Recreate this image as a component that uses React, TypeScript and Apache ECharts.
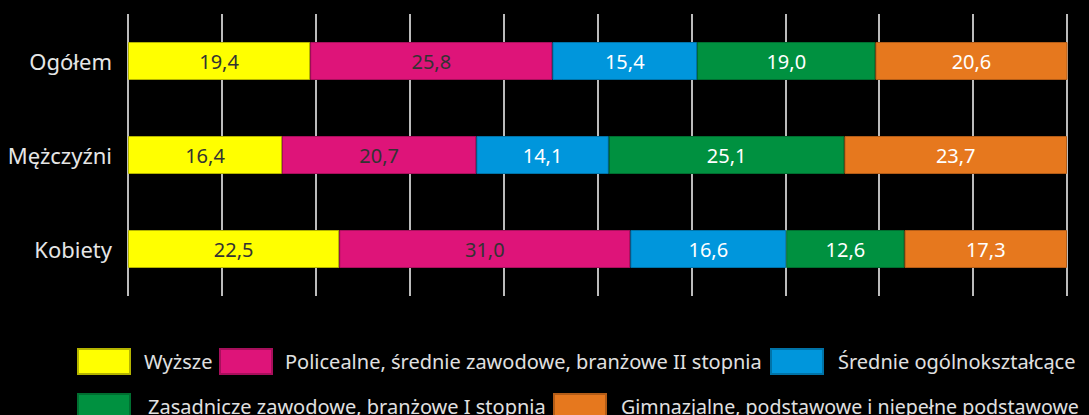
import React, { useEffect, useRef } from "react";
import * as echarts from "echarts";

const categories = ["Ogółem", "Mężczyźni", "Kobiety"];
const seriesNames = [
  "Wyższe",
  "Policealne, średnie zawodowe, branżowe II stopnia",
  "Średnie ogólnokształcące",
  "Zasadnicze zawodowe, branżowe I stopnia",
  "Gimnazjalne, podstawowe i niepełne podstawowe",
];
const wyzsze = [19.4, 16.4, 22.5];
const policealne = [25.8, 20.7, 31.0];
const srednie = [15.4, 14.1, 16.6];
const zasadnicze = [19.0, 25.1, 12.6];
const gimnazjalne = [20.6, 23.7, 17.3];
const seriesValues = [wyzsze, policealne, srednie, zasadnicze, gimnazjalne];

const colors = ["#FFFF00", "#DE1479", "#0096DC", "#009140", "#E6781E"];
const borders = ["#B4B400", "#A80F5C", "#0073A8", "#006E30", "#B35C17"];
const labelColors = ["#333333", "#333333", "#FFFFFF", "#FFFFFF", "#FFFFFF"];
const legendPos = [
  { left: 77, top: 348, gap: 9 },
  { left: 219, top: 348, gap: 8 },
  { left: 770, top: 348, gap: 10 },
  { left: 77, top: 393, gap: 13 },
  { left: 553, top: 393, gap: 10 },
];

const FONT = "'Noto Sans', 'Open Sans', sans-serif";

export default function App() {
  const ref = useRef<HTMLDivElement>(null);
  useEffect(() => {
    if (!ref.current) return;
    const chart = echarts.init(ref.current, null, { renderer: "svg" });
    chart.setOption({
      animation: false,
      backgroundColor: "#000000",
      textStyle: { fontFamily: FONT },
      grid: { left: 128, right: 22, top: 14, bottom: 119, containLabel: false },
      xAxis: {
        type: "value",
        min: 0,
        max: 100,
        interval: 10,
        axisLabel: { show: false },
        axisTick: { show: false },
        axisLine: { show: false },
        splitLine: { show: true, lineStyle: { color: "#BBBBBB", width: 2 } },
      },
      yAxis: {
        type: "category",
        data: categories,
        inverse: true,
        axisTick: { show: false },
        axisLine: { show: false },
        axisLabel: { color: "#E6E6E6", fontSize: 22, margin: 16, fontFamily: FONT },
      },
      legend: seriesNames.map((n, i) => ({
        data: [n],
        left: legendPos[i].left,
        top: legendPos[i].top,
        padding: 0,
        itemWidth: 52,
        itemHeight: 25,
        icon: "rect",
        selectedMode: false,
        textStyle: {
          color: "#E0E0E0",
          fontSize: i === 4 ? 19.6 : 20,
          fontFamily: FONT,
          padding: [0, 0, 0, legendPos[i].gap],
        },
      })),
      series: seriesNames.map((n, i) => ({
        name: n,
        type: "bar",
        stack: "total",
        barWidth: 38,
        data: seriesValues[i],
        itemStyle: { color: colors[i], borderColor: borders[i], borderWidth: 1 },
        label: {
          show: true,
          position: "inside",
          color: labelColors[i],
          fontSize: 20,
          fontFamily: FONT,
          formatter: (p: any) => Number(p.value).toFixed(1).replace(".", ","),
        },
      })),
    });
    return () => chart.dispose();
  }, []);
  return (
    <div
      ref={ref}
      style={{ position: "absolute", left: 0, top: 0, width: 1089, height: 415, background: "#000" }}
    />
  );
}
